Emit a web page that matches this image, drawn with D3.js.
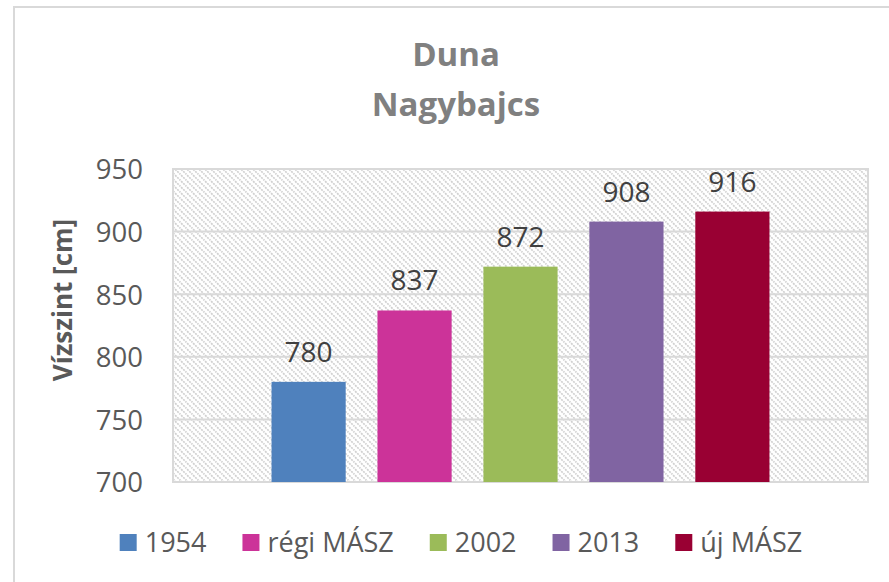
<!DOCTYPE html>
<html>
<head>
<meta charset="utf-8">
<script src="https://cdn.jsdelivr.net/npm/d3@7"></script>
<style>
  html, body { margin: 0; padding: 0; background: #ffffff; }
  svg { display: block; font-family: "Open Sans", sans-serif; }
</style>
</head>
<body>
<script>
// chart data
const series = ["1954", "régi MÁSZ", "2002", "2013", "új MÁSZ"];
const values = [780, 837, 872, 908, 916];
const colors = ["#4F81BD", "#CC3399", "#9BBB59", "#8064A2", "#990033"];
const titleLines = ["Duna", "Nagybajcs"];
const yTicks = [700, 750, 800, 850, 900, 950];
const yLabel = "Vízszint [cm]";

const width = 889, height = 582;
const plot = { left: 173, right: 868, top: 169, bottom: 482 };

const svg = d3.select("body")
    .append("svg")
    .attr("width", width)
    .attr("height", height);

// hatched background pattern
const defs = svg.append("defs");
const pat = defs.append("pattern")
    .attr("id", "hatch")
    .attr("patternUnits", "userSpaceOnUse")
    .attr("width", 6)
    .attr("height", 6);
pat.append("rect").attr("width", 6).attr("height", 6).attr("fill", "#ffffff");
pat.append("path")
    .attr("d", "M-1,-1 L7,7 M-1,5 L1,7 M5,-1 L7,1")
    .attr("stroke", "#d0d0d0")
    .attr("stroke-width", 1.7)
    .attr("stroke-dasharray", "2 1");

// outer chart frame (runs off the right/bottom edge)
svg.append("rect")
    .attr("x", 14)
    .attr("y", 7)
    .attr("width", width + 20)
    .attr("height", height + 20)
    .attr("fill", "none")
    .attr("stroke", "#d9d9d9")
    .attr("stroke-width", 2);

// scales
const y = d3.scaleLinear()
    .domain([d3.min(yTicks), d3.max(yTicks)])
    .range([plot.bottom, plot.top]);

const x = d3.scaleBand()
    .domain(series)
    .range([plot.left, plot.right])
    .paddingInner(0.30)
    .paddingOuter(0.93);

// plot area background
svg.append("rect")
    .attr("x", plot.left)
    .attr("y", plot.top)
    .attr("width", plot.right - plot.left)
    .attr("height", plot.bottom - plot.top)
    .attr("fill", "url(#hatch)");

// gridlines
svg.append("g")
    .selectAll("line")
    .data(yTicks)
    .join("line")
    .attr("x1", plot.left)
    .attr("x2", plot.right)
    .attr("y1", d => y(d))
    .attr("y2", d => y(d))
    .attr("stroke", "#d9d9d9")
    .attr("stroke-width", 2);

// plot border
svg.append("rect")
    .attr("x", plot.left)
    .attr("y", plot.top)
    .attr("width", plot.right - plot.left)
    .attr("height", plot.bottom - plot.top)
    .attr("fill", "none")
    .attr("stroke", "#d9d9d9")
    .attr("stroke-width", 2);

// y axis
const yAxis = svg.append("g")
    .attr("transform", `translate(${plot.left - 30},0)`)
    .call(d3.axisLeft(y).tickValues(yTicks).tickSize(0).tickPadding(0));
yAxis.select(".domain").remove();
yAxis.selectAll("text")
    .attr("font-family", "Open Sans, sans-serif")
    .attr("font-size", 27.5)
    .attr("fill", "#595959")
    .attr("dy", "0.36em");

// bars
svg.append("g")
    .selectAll("rect")
    .data(values)
    .join("rect")
    .attr("x", (d, i) => x(series[i]))
    .attr("y", d => y(d))
    .attr("width", x.bandwidth())
    .attr("height", d => y(d3.min(yTicks)) - y(d))
    .attr("fill", (d, i) => colors[i]);

// data labels
svg.append("g")
    .selectAll("text")
    .data(values)
    .join("text")
    .attr("x", (d, i) => x(series[i]) + x.bandwidth() / 2)
    .attr("y", d => y(d) - 20)
    .attr("text-anchor", "middle")
    .attr("font-size", 28)
    .attr("fill", "#404040")
    .text(d => d);

// title
svg.append("g")
    .selectAll("text")
    .data(titleLines)
    .join("text")
    .attr("x", 456)
    .attr("y", (d, i) => 66 + i * 50)
    .attr("text-anchor", "middle")
    .attr("font-size", 33)
    .attr("font-weight", "bold")
    .attr("fill", "#808080")
    .text(d => d);

// y axis title
svg.append("text")
    .attr("transform", "translate(72,300) rotate(-90)")
    .attr("text-anchor", "middle")
    .attr("font-size", 26)
    .attr("font-weight", "bold")
    .attr("fill", "#595959")
    .text(yLabel);

// legend
const legend = svg.append("g");
const items = legend.selectAll("g")
    .data(series)
    .join("g");
items.append("rect")
    .attr("width", 17)
    .attr("height", 17)
    .attr("y", -9)
    .attr("fill", (d, i) => colors[i]);
items.append("text")
    .attr("x", 25)
    .attr("dy", "0.35em")
    .attr("font-size", 27)
    .attr("fill", "#595959")
    .text(d => d);

const gap = 36;
let cursor = 0;
const offsets = [];
items.each(function () {
    offsets.push(cursor);
    cursor += this.getBBox().width + gap;
});
const total = cursor - gap;
const legendCenter = 461;
items.attr("transform", (d, i) => `translate(${legendCenter - total / 2 + offsets[i]},543)`);
</script>
</body>
</html>
